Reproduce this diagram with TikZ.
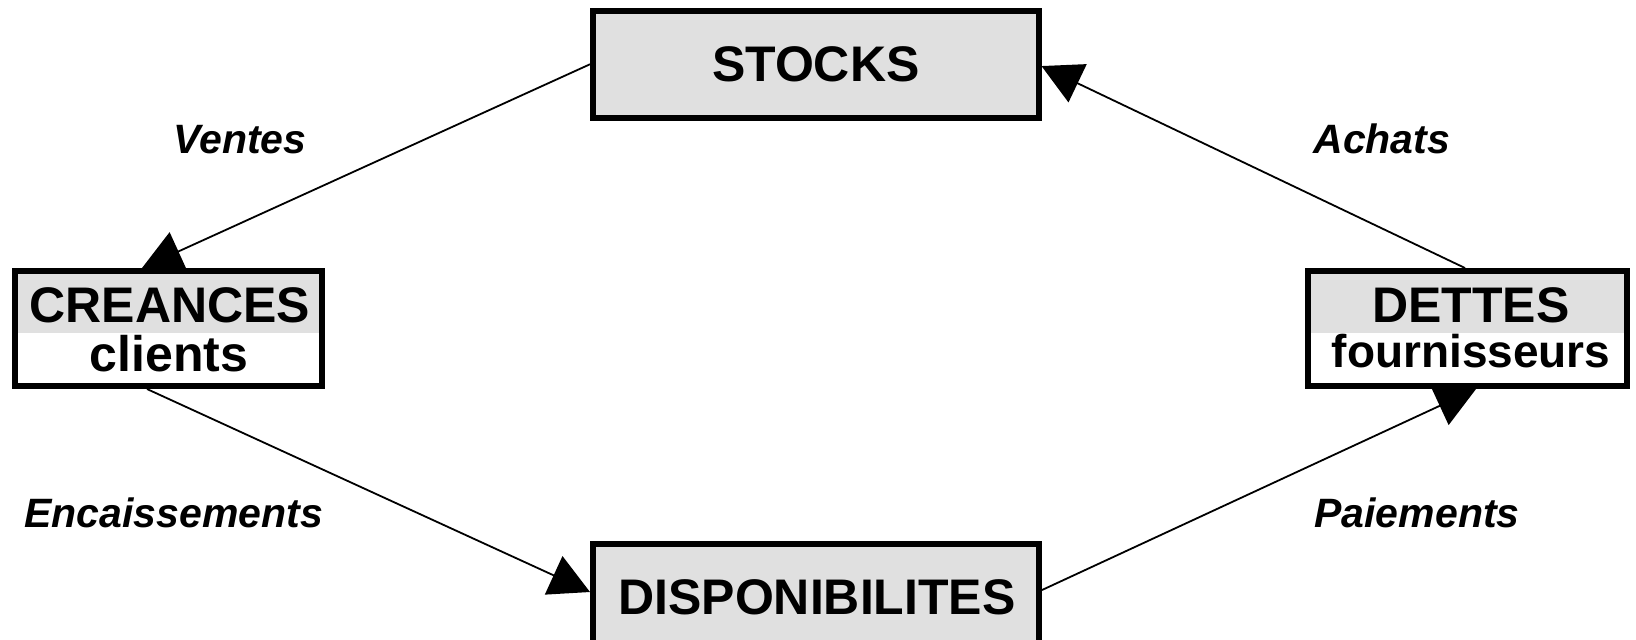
\documentclass[tikz,border=0pt]{standalone}
\usepackage{fontspec}
\setmainfont{Liberation Sans}
\usetikzlibrary{arrows.meta,backgrounds,calc}
\definecolor{boxgray}{RGB}{224,224,224}
\tikzset{
 boxnode/.style={draw=black, line width=3pt, fill=boxgray, rectangle, inner sep=0pt, font=\fontsize{25}{30}\selectfont\bfseries},
 splitbox/.style={draw=black, line width=3pt, fill=white, rectangle, inner sep=0pt,
   path picture={\fill[boxgray] (path picture bounding box.north west) rectangle ([yshift=-31pt]path picture bounding box.north east);}},
 boxtext/.style={anchor=base, inner sep=0pt, font=\fontsize{25}{30}\selectfont\bfseries},
 flowlabel/.style={anchor=base west, inner sep=0pt, font=\fontsize{20.5}{24}\selectfont\bfseries\itshape},
 flow/.style={line width=0.9pt, -{Triangle[length=20pt,width=21pt]}}
}
\begin{document}
\begin{tikzpicture}[x=0.5pt,y=-0.5pt]
\useasboundingbox (0,0) rectangle (1636,639);
\clip (0,0) rectangle (1636,639);
% boxes
\node[boxnode, minimum width=222.75pt, minimum height=53.25pt] (stocks) at (815.75,64.25) {STOCKS};
\node[splitbox, minimum width=153.5pt, minimum height=57.5pt] (cre) at (168.5,328.5) {};
\node[splitbox, minimum width=159.5pt, minimum height=57.5pt] (det) at (1467.5,328.5) {};
\node[boxnode, minimum width=223pt, minimum height=78pt] (dispo) at (816,622) {};
% box texts
\node[boxtext] (cretop) at (170,322) {CREANCES};
\node[boxtext] (crebot) at (169,371.5) {clients};
\node[boxtext] (dettop) at (1471,322) {DETTES};
\node[boxtext, font=\fontsize{23}{28}\selectfont\bfseries] (detbot) at (1471,367) {fournisseurs};
\node[boxtext] (dispotext) at (817,614) {DISPONIBILITES};
% labels
\node[flowlabel] (lv) at (173,153) {Ventes};
\node[flowlabel] (le) at (24,527) {Encaissements};
\node[flowlabel] (la) at (1313,153) {Achats};
\node[flowlabel] (lp) at (1314,527) {Paiements};
% connectors
\begin{pgfonlayer}{background}
\fill[white] (0,0) rectangle (1636,639);
\draw[flow] (stocks.west) -- ([xshift=-13.25pt]cre.north);
\draw[flow] ([xshift=-10.75pt]cre.south) -- ([yshift=15pt]dispo.west);
\draw[flow] ([yshift=16pt]dispo.east) -- ([xshift=4.25pt]det.south);
\draw[flow] ([xshift=-1.25pt]det.north) -- ([yshift=-0.9pt]stocks.east);
\end{pgfonlayer}
\end{tikzpicture}
\end{document}
